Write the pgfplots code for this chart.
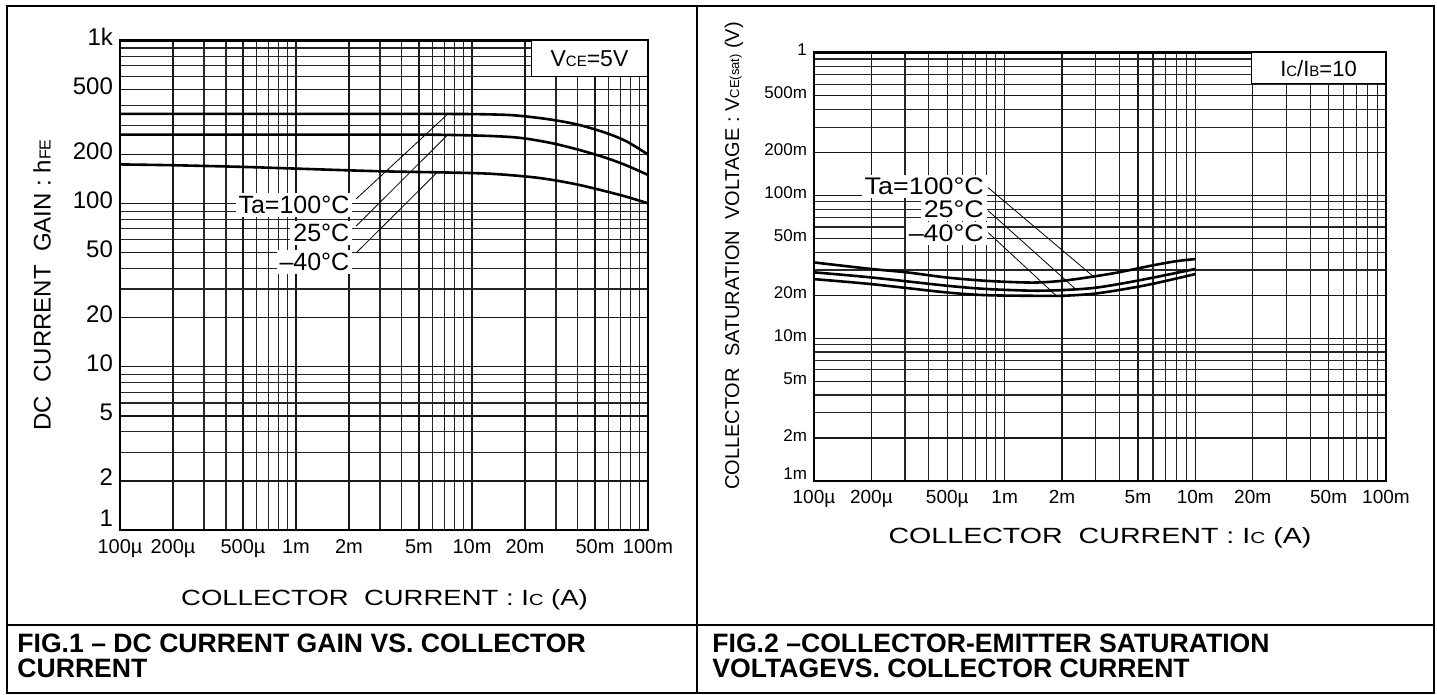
\documentclass[border=0pt]{standalone}
\usepackage{pgfplots}
\pgfplotsset{compat=1.18}
\usepackage{fontspec}
\setmainfont{Liberation Sans}
\usepackage{graphicx}
\newcommand{\fs}[1]{\fontsize{#1}{#1}\selectfont}
\begin{document}
\begin{tikzpicture}
\useasboundingbox (0,0) rectangle (718.5pt,347.5pt);
% frame
\draw[line width=1.35pt] (3.5pt,1pt) rectangle (717pt,344.5pt);
\draw[line width=1.35pt] (348.5pt,1pt) -- (348.5pt,344.5pt);
\draw[line width=1.35pt] (3.5pt,35pt) -- (717pt,35pt);
% captions
\node[anchor=base west, inner sep=0pt, font=\bfseries\fs{13.3}] at (8.5pt,21pt) {FIG.1 – DC CURRENT GAIN VS. COLLECTOR};
\node[anchor=base west, inner sep=0pt, font=\bfseries\fs{13.3}] at (8.5pt,8.5pt) {CURRENT};
\node[anchor=base west, inner sep=0pt, font=\bfseries\fs{13.3}] at (356pt,21pt) {FIG.2 –COLLECTOR-EMITTER SATURATION};
\node[anchor=base west, inner sep=0pt, font=\bfseries\fs{13.3}] at (356pt,8.5pt) {VOLTAGEVS. COLLECTOR CURRENT};
% axis labels
\node[font=\fs{11}] at (192.25pt,47.5pt) {\scalebox{1.25}[1]{COLLECTOR\ \ CURRENT : I{\fs{8}C} (A)}};
\node[font=\fs{12}, rotate=90] at (21pt,205pt) {DC\ \ CURRENT\ \ GAIN : h{\fs{8}FE}};
\node[font=\fs{11}] at (550pt,78.5pt) {\scalebox{1.3}[1]{COLLECTOR\ \ CURRENT : I{\fs{8}C} (A)}};
\node[font=\fs{10}, rotate=90] at (367pt,219.5pt) {COLLECTOR\ \ SATURATION\ \ VOLTAGE : V{\fs{6.5}CE(sat)} (V)};

% ---------------- Chart 1 ----------------
\begin{axis}[
  scale only axis, anchor=south west,
  at={(60pt,82.5pt)}, width=264pt, height=244.75pt,
  xmode=log, ymode=log,
  xmin=1e-4, xmax=0.1, ymin=1, ymax=1000,
  grid=both,
  major grid style={black!90, line width=0.65pt},
  minor grid style={black!85, line width=0.55pt},
  axis line style={line width=1.1pt},
  major tick length=0pt, minor tick length=0pt,
  xtick={1e-4,2e-4,5e-4,1e-3,2e-3,5e-3,1e-2,2e-2,5e-2,1e-1},
  xticklabels={100µ,200µ,500µ,1m,2m,5m,10m,20m,50m,100m},
  minor xtick={3e-4,4e-4,6e-4,7e-4,8e-4,9e-4,3e-3,4e-3,6e-3,7e-3,8e-3,9e-3,3e-2,4e-2,6e-2,7e-2,8e-2,9e-2},
  ytick={1,2,5,10,20,50,100,200,500,1000},
  yticklabels={{\raisebox{8pt}{1}},2,5,10,20,50,100,200,500,1k},
  minor ytick={3,4,6,7,8,9,30,40,60,70,80,90,300,400,600,700,800,900},
  typeset ticklabels with strut,
  xticklabel style={font=\fs{10}, yshift=-1pt},
  yticklabel style={font=\fs{12}},
]
\addplot[line width=1.3pt, smooth] coordinates {
 (1e-4,355) (1e-3,355) (5e-3,355) (1e-2,354) (1.58e-2,350) (2.05e-2,342) (2.89e-2,326) (4.1e-2,303) (5.85e-2,270) (7.6e-2,240) (1e-1,200)};
\addplot[line width=1.3pt, smooth] coordinates {
 (1e-4,265) (1e-3,265) (5e-3,265) (1e-2,262) (1.58e-2,257) (2.05e-2,250) (2.89e-2,234) (4.1e-2,213) (5.85e-2,190) (7.6e-2,171) (1e-1,150)};
\addplot[line width=1.3pt, smooth] coordinates {
 (1e-4,174) (2e-4,172) (5e-4,168) (1e-3,164) (3e-3,158) (1.11e-2,153.5) (2.05e-2,146.5) (2.89e-2,139.6) (4.1e-2,130) (5.85e-2,118.5) (7.6e-2,110) (1e-1,100.5)};
\draw[line width=0.4pt] (axis cs:2.2e-3,107) -- (axis cs:7.3e-3,355);
\draw[line width=0.4pt] (axis cs:2.2e-3,73) -- (axis cs:7.3e-3,265);
\draw[line width=0.4pt] (axis cs:2.2e-3,50) -- (axis cs:6.4e-3,157);
\node[fill=white, inner sep=1.5pt, anchor=east, font=\fs{12.5}] at (axis cs:2.1e-3,98) {Ta=100°C};
\node[fill=white, inner sep=1.5pt, anchor=east, font=\fs{12.5}] at (axis cs:2.1e-3,66) {25°C};
\node[fill=white, inner sep=1.5pt, anchor=east, font=\fs{12.5}] at (axis cs:2.1e-3,44) {–40°C};
\node[draw, fill=white, line width=0.5pt, anchor=north east, minimum width=58pt, minimum height=18pt, font=\fs{11.5}] at (rel axis cs:1,1) {V{\fs{7.5}CE}=5V};
\end{axis}

% ---------------- Chart 2 ----------------
\begin{axis}[
  scale only axis, anchor=south west,
  at={(407pt,107pt)}, width=286pt, height=214.25pt,
  xmode=log, ymode=log,
  xmin=1e-4, xmax=0.1, ymin=1e-3, ymax=1,
  grid=both,
  major grid style={black!90, line width=0.65pt},
  minor grid style={black!85, line width=0.55pt},
  axis line style={line width=1.1pt},
  major tick length=0pt, minor tick length=0pt,
  xtick={1e-4,2e-4,5e-4,1e-3,2e-3,5e-3,1e-2,2e-2,5e-2,1e-1},
  xticklabels={100µ,200µ,500µ,1m,2m,5m,10m,20m,50m,100m},
  minor xtick={3e-4,4e-4,6e-4,7e-4,8e-4,9e-4,3e-3,4e-3,6e-3,7e-3,8e-3,9e-3,3e-2,4e-2,6e-2,7e-2,8e-2,9e-2},
  ytick={1e-3,2e-3,5e-3,1e-2,2e-2,5e-2,0.1,0.2,0.5,1},
  yticklabels={{\raisebox{5pt}{1m}},2m,5m,10m,20m,50m,100m,200m,500m,1},
  minor ytick={3e-3,4e-3,6e-3,7e-3,8e-3,9e-3,3e-2,4e-2,6e-2,7e-2,8e-2,9e-2,0.3,0.4,0.6,0.7,0.8,0.9},
  typeset ticklabels with strut,
  xticklabel style={font=\fs{9.5}, yshift=-1pt},
  yticklabel style={font=\fs{8.5}},
]
\addplot[line width=1.3pt, smooth] coordinates {
 (1e-4,0.0339) (2e-4,0.0305) (3.06e-4,0.0289) (4.95e-4,0.0266) (8e-4,0.0252) (1.39e-3,0.0245) (2e-3,0.0252) (2.87e-3,0.0269) (3.96e-3,0.0289) (5.89e-3,0.0322) (7.85e-3,0.0345) (1e-2,0.0358)};
\addplot[line width=1.3pt, smooth] coordinates {
 (1e-4,0.0289) (2e-4,0.0266) (4.95e-4,0.0233) (8e-4,0.0221) (1.39e-3,0.0215) (2e-3,0.0217) (2.87e-3,0.0224) (3.96e-3,0.0239) (5.89e-3,0.0264) (1e-2,0.0305)};
\addplot[line width=1.3pt, smooth] coordinates {
 (1e-4,0.0259) (2e-4,0.0239) (4.95e-4,0.0209) (8e-4,0.0200) (1.39e-3,0.0198) (2e-3,0.0198) (2.87e-3,0.0204) (3.96e-3,0.0217) (5.89e-3,0.0239) (1e-2,0.0281)};
\draw[line width=0.4pt] (axis cs:8.2e-4,0.113) -- (axis cs:2.94e-3,0.0268);
\draw[line width=0.4pt] (axis cs:8.2e-4,0.078) -- (axis cs:2.36e-3,0.0220);
\draw[line width=0.4pt] (axis cs:8.2e-4,0.0548) -- (axis cs:1.86e-3,0.0199);
\node[fill=white, inner sep=1.5pt, anchor=east, font=\fs{12}] at (axis cs:8.1e-4,0.115) {\scalebox{1.12}[1]{Ta=100°C}};
\node[fill=white, inner sep=1.5pt, anchor=east, font=\fs{12}] at (axis cs:8.1e-4,0.0798) {\scalebox{1.12}[1]{25°C}};
\node[fill=white, inner sep=1.5pt, anchor=east, font=\fs{12}] at (axis cs:8.1e-4,0.0542) {\scalebox{1.12}[1]{–40°C}};
\node[draw, fill=white, line width=0.5pt, anchor=north east, minimum width=67pt, minimum height=15.3pt, font=\fs{11}] at (rel axis cs:1,1) {I{\fs{7.5}C}/I{\fs{7.5}B}=10};
\end{axis}
\end{tikzpicture}
\end{document}
